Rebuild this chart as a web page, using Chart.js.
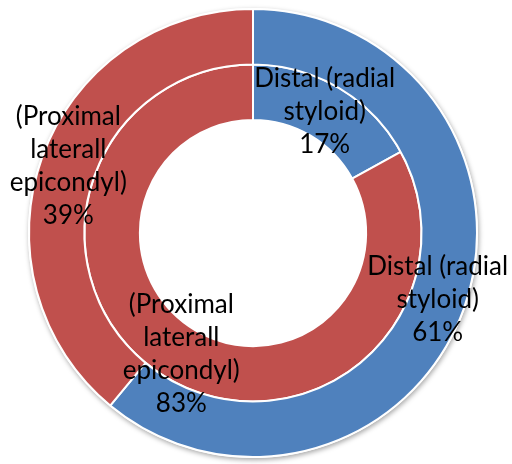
<!DOCTYPE html>
<html>
<head>
<meta charset="utf-8">
<script src="https://cdn.jsdelivr.net/npm/chart.js@4"></script>
<style>
  html, body { margin: 0; padding: 0; background: #fff; }
  #wrap { width: 512px; height: 464px; position: relative; }
</style>
</head>
<body>
<div id="wrap"><canvas id="myDoughnut"></canvas></div>
<script>
// categories (each label split into the lines drawn on the chart)
var categories = [
  ["Distal (radial", "styloid)"],
  ["(Proximal", "laterall", "epicondyl)"]
];
// outer ring and inner ring, in percent
var outerValues = [61, 39];
var innerValues = [17, 83];
var colors = ["#4F81BD", "#C0504D"];

// soft shadow under the outer ring
var ringShadow = {
  id: "ringShadow",
  beforeDatasetsDraw: function (chart) {
    var arc = chart.getDatasetMeta(0).data[0];
    if (!arc) return;
    var ctx = chart.ctx;
    ctx.save();
    ctx.shadowColor = "rgba(0,0,0,0.35)";
    ctx.shadowBlur = 5;
    ctx.shadowOffsetX = 1;
    ctx.shadowOffsetY = 2;
    ctx.fillStyle = "#ffffff";
    ctx.beginPath();
    ctx.arc(arc.x, arc.y, arc.outerRadius + 1, 0, Math.PI * 2);
    ctx.fill();
    ctx.restore();
  }
};

// data labels: category lines + percent, at the middle of each arc
var sliceLabels = {
  id: "sliceLabels",
  afterDatasetsDraw: function (chart) {
    var ctx = chart.ctx;
    ctx.save();
    ctx.font = "26px Lato";
    ctx.fillStyle = "#000";
    ctx.textAlign = "center";
    ctx.textBaseline = "middle";
    var lineH = 33;
    chart.data.datasets.forEach(function (ds, di) {
      chart.getDatasetMeta(di).data.forEach(function (arc, i) {
        var p = arc.getCenterPoint();
        var lines = categories[i].concat([ds.data[i] + "%"]);
        var top = p.y - (lines.length - 1) * lineH / 2;
        lines.forEach(function (t, k) {
          ctx.fillText(t, p.x, top + k * lineH);
        });
      });
    });
    ctx.restore();
  }
};

var ctx = document.getElementById("myDoughnut").getContext("2d");
var myDoughnut = new Chart(ctx, {
  type: "doughnut",
  data: {
    labels: categories.map(function (c) { return c.join(" "); }),
    datasets: [
      { data: outerValues, backgroundColor: colors, borderColor: "#fff", borderWidth: 2 },
      { data: innerValues, backgroundColor: colors, borderColor: "#fff", borderWidth: 2 }
    ]
  },
  options: {
    responsive: true,
    maintainAspectRatio: false,
    animation: false,
    radius: 224,
    cutout: "50.5%",
    layout: { padding: { left: 29, right: 35, top: 9, bottom: 7 } },
    plugins: {
      legend: { display: false },
      tooltip: { enabled: false }
    }
  },
  plugins: [ringShadow, sliceLabels]
});
</script>
</body>
</html>
